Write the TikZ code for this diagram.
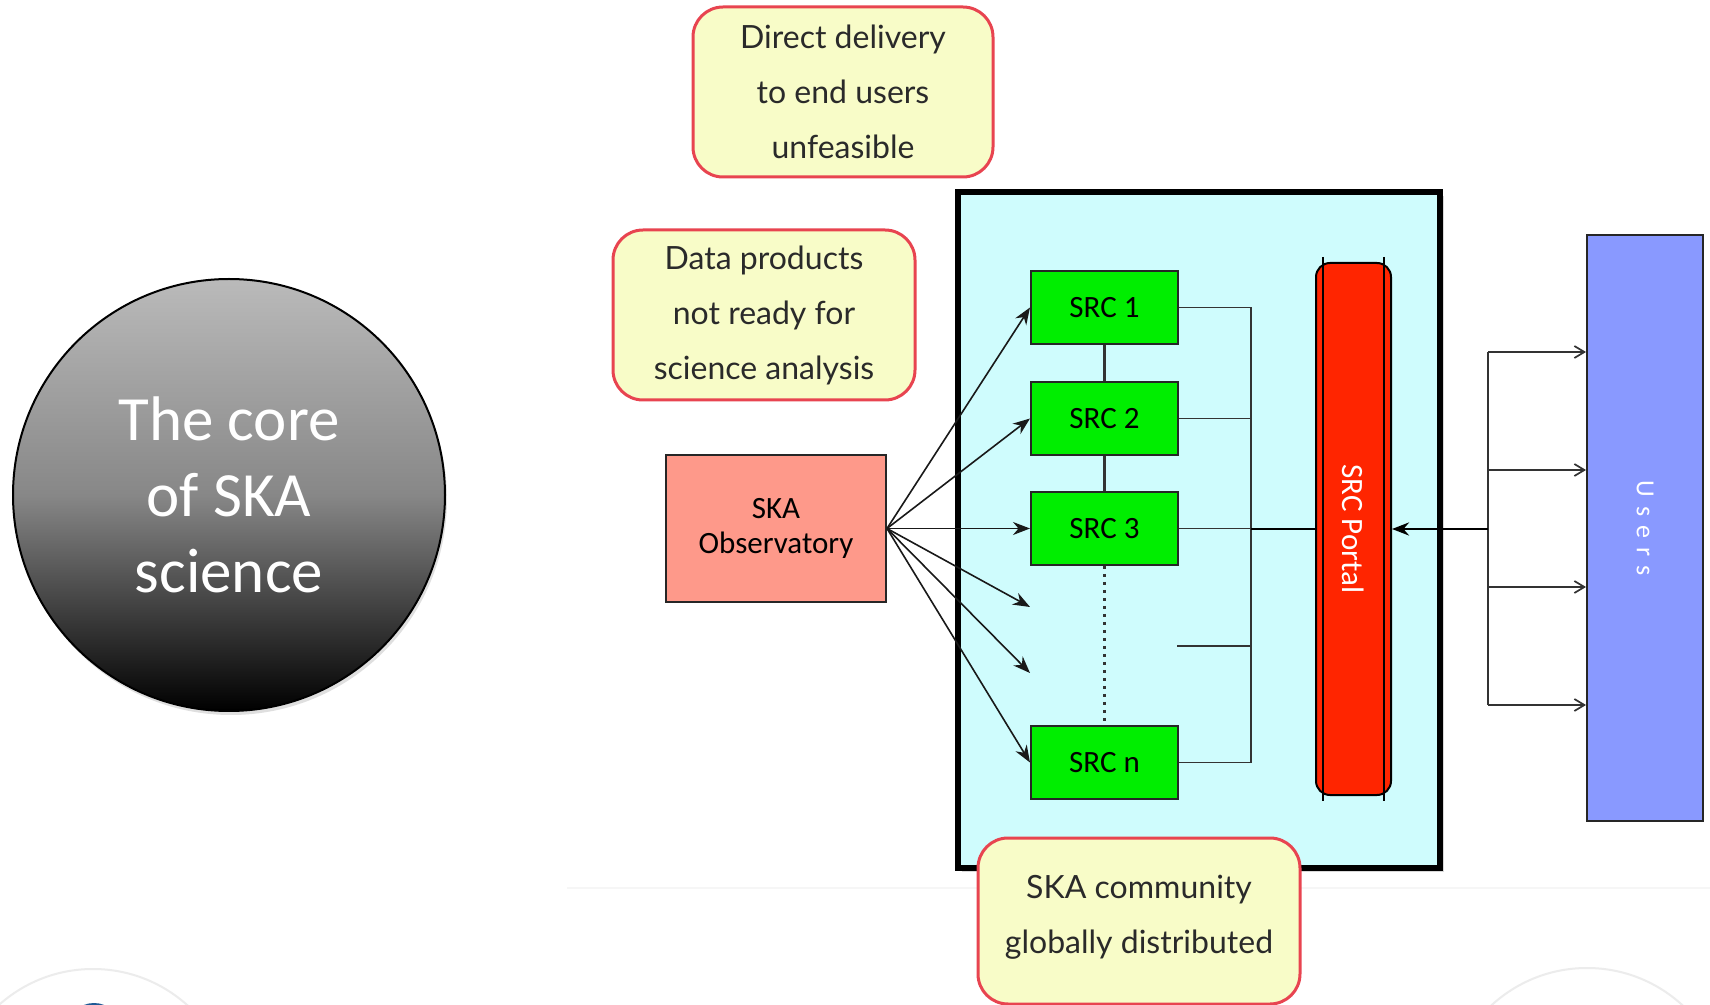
\documentclass[tikz,border=0pt]{standalone}
\usepackage{fontspec}
\setmainfont{Carlito}
\newfontfamily\gillfont{Lato}
\usetikzlibrary{arrows.meta,shadows,calc}
\definecolor{calloutfill}{HTML}{F8FCC8}
\definecolor{calloutred}{HTML}{E84450}
\definecolor{textgray}{HTML}{2A2A2A}
\definecolor{srcgreen}{HTML}{00EE00}
\definecolor{obsfill}{HTML}{FE998A}
\definecolor{cyanfill}{HTML}{CFFCFD}
\definecolor{portalred}{HTML}{FF2500}
\definecolor{usersblue}{HTML}{8999FF}
\definecolor{linegray}{HTML}{333333}
\definecolor{faint}{HTML}{ECECEC}
\definecolor{fainter}{HTML}{F6F6F6}
\definecolor{logoblue}{HTML}{1F5A96}
\begin{document}
\begin{tikzpicture}[x=0.5pt,y=-0.5pt,
  callout/.style={draw=calloutred, line width=1.5pt, fill=calloutfill, rounded corners=15pt,
    font=\gillfont\fontsize{16}{27.5}\selectfont, text=textgray, align=center, inner sep=0pt},
  srcbox/.style={draw=black!85, line width=1pt, fill=srcgreen, minimum width=73.5pt,
    minimum height=36.5pt, font=\fontsize{15.5}{18}\selectfont, inner sep=0pt},
  obsarrow/.style={line width=0.8pt, draw=black!90, -{Stealth[length=8.5pt,width=6.5pt]}},
  busline/.style={line width=0.85pt, draw=linegray},
  userarrow/.style={line width=0.85pt, draw=linegray, -{Straight Barb[length=5pt,width=6pt]}},
]
\clip (0,0) rectangle (1710,1005);
\fill[white] (0,0) rectangle (1710,1005);

% faint background decorations
\draw[fainter, line width=0.6pt] (567,888) -- (1710,888);
\draw[faint, line width=1pt] (93,1110) circle[radius=70.5pt];
\draw[faint, line width=1pt] (1587,1109) circle[radius=70.5pt];
\fill[logoblue] (94,1030) circle[radius=13.5pt];

% core circle
\node[circle, draw=black, line width=1pt, minimum size=216pt, inner sep=0pt,
  top color=black!27, bottom color=black, middle color=black!47,
  drop shadow={opacity=0.25, shadow xshift=1pt, shadow yshift=-2pt},
  text=white, align=center, font=\fontsize{31.5}{38}\selectfont] (core) at (229,495)
  {The core\\of SKA\\science};

% callouts
\node[callout, minimum width=150pt, minimum height=85pt] (c1) at (843,92)
  {Direct delivery\\to end users\\unfeasible};
\node[callout, minimum width=151pt, minimum height=85pt] (c2) at (764,315)
  {Data products\\not ready for\\science analysis};

% SRC cluster box
\node[draw=black, line width=3pt, fill=cyanfill, minimum width=241pt, minimum height=338pt,
  drop shadow={opacity=0.3, shadow xshift=2pt, shadow yshift=-2pt}] (cluster) at (1199,530) {};

% SKA observatory
\node[draw=black!85, line width=1pt, fill=obsfill, minimum width=110pt, minimum height=73.5pt,
  align=center, font=\fontsize{15.5}{17.5}\selectfont, text=black] (obs) at (776,528.5) {SKA\\Observatory};

% SRC nodes
\node[srcbox] (src1) at (1104.5,307.5) {SRC 1};
\node[srcbox] (src2) at (1104.5,418.5) {SRC 2};
\node[srcbox] (src3) at (1104.5,528.5) {SRC 3};
\node[srcbox] (srcn) at (1104.5,762.5) {SRC n};

\draw[line width=1.1pt, draw=linegray] (src1.south) -- (src2.north);
\draw[line width=1.1pt, draw=linegray] (src2.south) -- (src3.north);
\draw[line width=1.4pt, draw=linegray, dash pattern=on 1.4pt off 2.6pt] (src3.south) -- (srcn.north);

% portal
\node[draw=black, line width=1pt, fill=portalred, rounded corners=7pt, minimum width=37.5pt,
  minimum height=266pt, inner sep=0pt] (portal) at (1353.5,529) {};
\draw[line width=0.9pt] ($(portal.north west)+(8,-5)$) -- ($(portal.south west)+(8,5)$);
\draw[line width=0.9pt] ($(portal.north east)+(-8,-5)$) -- ($(portal.south east)+(-8,5)$);
\node[rotate=-90, text=white, font=\fontsize{15.5}{18}\selectfont, inner sep=0pt] (portallabel)
  at (portal.center) {SRC Portal};

% users
\node[draw=black!85, line width=1pt, fill=usersblue, minimum width=58pt, minimum height=293pt] (users)
  at (1645,528) {};
\node[rotate=-90, text=white, font=\fontsize{13}{15}\selectfont, inner sep=0pt] (userslabel)
  at (users.center) {U\kern4.5pt s\kern4.5pt e\kern4.5pt r\kern4.5pt s};

% observatory arrows
\coordinate (free1) at (1030,607);
\coordinate (free2) at (1030,673);
\draw[obsarrow] (obs.east) -- (src1.west);
\draw[obsarrow] (obs.east) -- (src2.west);
\draw[obsarrow] (obs.east) -- (src3.west);
\draw[obsarrow] (obs.east) -- (free1);
\draw[obsarrow] (obs.east) -- (free2);
\draw[obsarrow] (obs.east) -- (srcn.west);

% bus to portal
\coordinate (busref) at (1251,0);
\coordinate (stub) at (1177,646);
\draw[busline] (src1.east) -- (src1.east -| busref) |- (srcn.east);
\draw[busline] (src2.east) -- (src2.east -| busref);
\draw[busline] (src3.east) -- (src3.east -| busref);
\draw[busline] (stub) -- (stub -| busref);
\draw[line width=1.4pt] (portal.west -| busref) -- (portal.west);

% users bus
\coordinate (ua1) at (1488,352);
\coordinate (ua2) at (1488,470);
\coordinate (ua3) at (1488,587);
\coordinate (ua4) at (1488,705);
\draw[busline] (ua1) -- (ua4);
\draw[userarrow] (ua1) -- (ua1 -| users.west);
\draw[userarrow] (ua2) -- (ua2 -| users.west);
\draw[userarrow] (ua3) -- (ua3 -| users.west);
\draw[userarrow] (ua4) -- (ua4 -| users.west);
\draw[line width=1.4pt, -{Stealth[length=8.5pt,width=6.5pt]}] (portal.east -| ua1) -- (portal.east);

% bottom callout
\node[callout, minimum width=161pt, minimum height=83pt] (c3) at (1139,921) {};
\node[font=\gillfont\fontsize{16}{27.5}\selectfont, text=textgray, align=center, inner sep=0pt]
  (c3text) at (1139,917) {SKA community\\globally distributed};
\end{tikzpicture}
\end{document}
